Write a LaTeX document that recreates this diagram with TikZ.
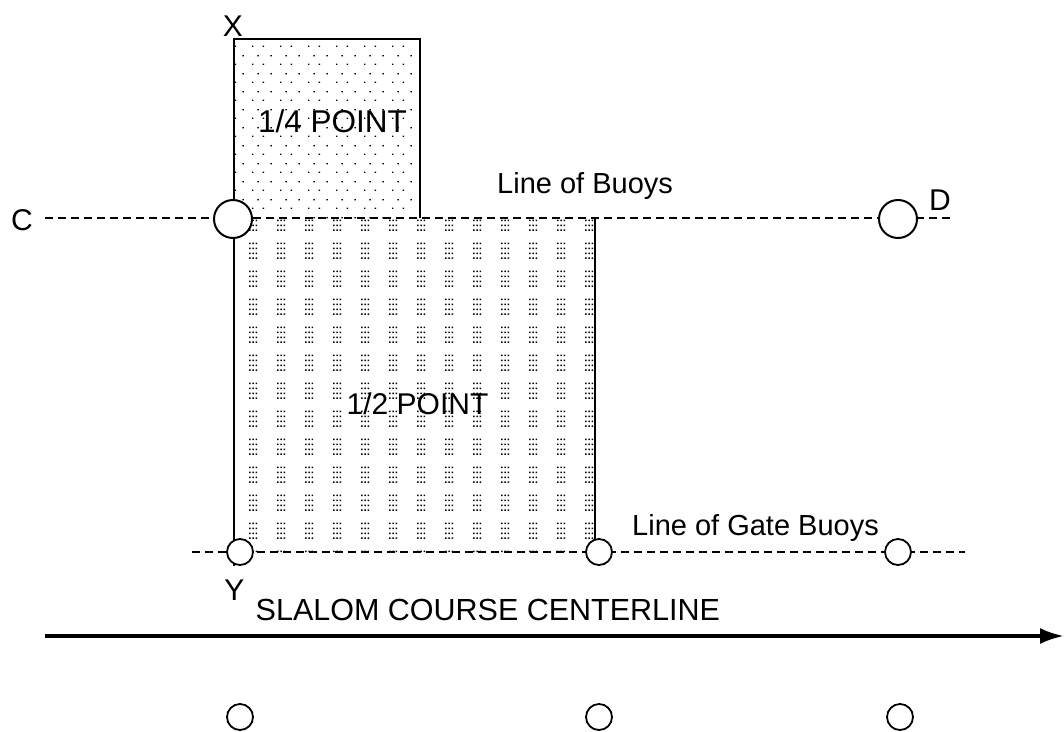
\documentclass[tikz,border=0pt]{standalone}
\usepackage{fontspec}
\setmainfont{Liberation Sans}
\usetikzlibrary{patterns,arrows.meta}

\pgfdeclarepatternformonly{halfdots}{\pgfqpoint{0pt}{0pt}}{\pgfqpoint{27.7pt}{27.5pt}}{\pgfqpoint{27.7pt}{27.5pt}}{%
  \foreach \i in {0,3.3,6.6}{\foreach \j in {0,5,10,15}{%
    \pgfpathrectangle{\pgfqpoint{\i pt}{\j pt}}{\pgfqpoint{1.6pt}{1.6pt}}}}%
  \pgfusepath{fill}}
\pgfdeclarepatternformonly{quarterdots}{\pgfqpoint{0pt}{0pt}}{\pgfqpoint{28pt}{18pt}}{\pgfqpoint{28pt}{18pt}}{%
  \foreach \i/\j in {0/0,11/0,5.5/9,19/9}{%
    \pgfpathrectangle{\pgfqpoint{\i pt}{\j pt}}{\pgfqpoint{1.5pt}{1.5pt}}}%
  \pgfusepath{fill}}

\begin{document}
\begin{tikzpicture}[x=1pt,y=-1pt,
  txt/.style={inner sep=0pt,font=\fontsize{30}{36}\selectfont},
  big txt/.style={inner sep=0pt,font=\fontsize{31.5}{38}\selectfont},
  line txt/.style={inner sep=0pt,font=\fontsize{29}{35}\selectfont},
  buoy/.style={circle,draw,fill=white,line width=2pt,minimum size=38pt,inner sep=0pt},
  gate buoy/.style={circle,draw,fill=white,line width=1.8pt,minimum size=26pt,inner sep=0pt},
  buoy line/.style={line width=1.3pt,dash pattern=on 8pt off 5pt},
  edge line/.style={line width=1.5pt}]
\useasboundingbox (0,0) rectangle (1064,731);
% scoring areas
\begin{scope}
\coordinate (q1) at (234,39);
\coordinate (q2) at (420,39);
\coordinate (q3) at (420,218);
\coordinate (h1) at (595,218);
\coordinate (h2) at (595,552);
\coordinate (ybot) at (234,566);
\fill[pattern=quarterdots] (q1) rectangle (q3);
\fill[pattern=halfdots] (234,218) rectangle (h2);
\draw[edge line] (ybot) -- (q1) -- (q2) -- (q3);
\draw[edge line] (h1) -- (h2);
\end{scope}
% buoy lines
\begin{scope}
\coordinate (c1) at (45,218);
\coordinate (c2) at (953,218);
\coordinate (g1) at (192,552);
\coordinate (g2) at (965,552);
\coordinate (a1) at (45,636);
\coordinate (a2) at (1064,636);
\draw[buoy line] (c1) -- (c2);
\draw[buoy line] (g1) -- (g2);
\draw[line width=3.5pt,-{Latex[length=24pt,width=16pt]}] (a1) -- (a2);
\end{scope}
\begin{scope}
\node[buoy] (bC) at (233,219) {};
\node[buoy] (bD) at (898,219) {};
\node[gate buoy] (g1b) at (240,552) {};
\node[gate buoy] (g2b) at (599,552) {};
\node[gate buoy] (g3b) at (898,552) {};
\node[gate buoy] (s1) at (240,717) {};
\node[gate buoy] (s2) at (599,717) {};
\node[gate buoy] (s3) at (900,717) {};
\end{scope}
% labels
\begin{scope}
\node[txt,anchor=base] (lX) at (233,36) {X};
\node[txt,anchor=base] (lY) at (234.5,600) {Y};
\node[txt,anchor=base] (lC) at (22,230) {C};
\node[txt,anchor=base] (lD) at (940,210) {D};
\node[big txt,anchor=base] (quarter) at (332.5,132) {1/4 POINT};
\node[txt,anchor=base] (half) at (417.5,414) {1/2 POINT};
\node[line txt,anchor=base west] (buoys) at (497,193) {Line of Buoys};
\node[line txt,anchor=base west] (gates) at (632,535) {Line of Gate Buoys};
\node[inner sep=0pt,font=\fontsize{30.5}{36}\selectfont,anchor=base west] (center) at (255.5,620) {SLALOM COURSE CENTERLINE};
\end{scope}
\end{tikzpicture}
\end{document}
